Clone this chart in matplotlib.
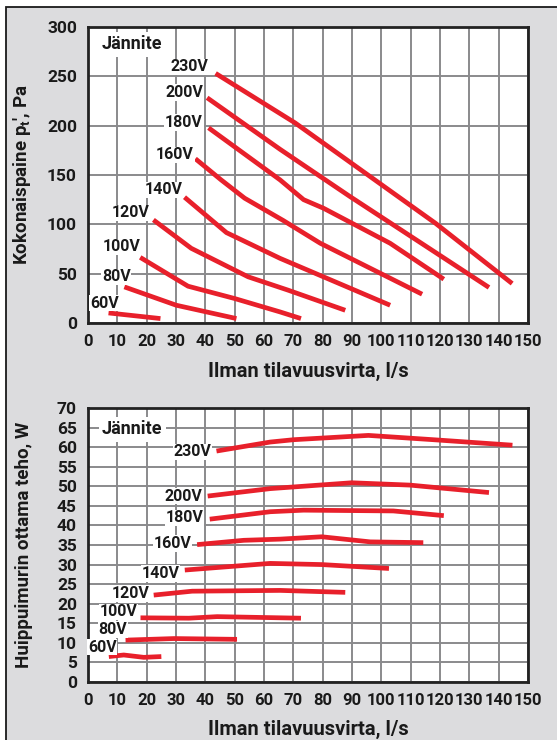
import numpy as np
import matplotlib
matplotlib.use('Agg')
import matplotlib.pyplot as plt
from matplotlib.patches import Rectangle

# pressure curves, x = air flow l/s, y = total pressure Pa
voltages = ['60V', '80V', '100V', '120V', '140V', '160V', '180V', '200V', '230V']
p_flow = [
    [7.0, 24.7],
    [12.4, 30.1, 50.6],
    [17.8, 34.1, 50.0, 65.5, 72.6],
    [22.3, 35.2, 54.6, 68.2, 87.7],
    [32.9, 47.2, 65.5, 103.0],
    [36.6, 45.4, 53.4, 66.5, 79.2, 113.9],
    [41.1, 65.5, 73.5, 80.3, 103.0, 121.3],
    [40.6, 65.5, 89.4, 136.7],
    [43.5, 70.6, 118.5, 144.6],
]
p_pres = [
    [10.2, 4.5],
    [36.6, 18.0, 4.5],
    [66.5, 37.3, 24.8, 11.2, 4.5],
    [104.5, 75.7, 46.8, 33.3, 12.9],
    [127.5, 91.6, 65.5, 18.0],
    [166.5, 145.0, 126.5, 104.0, 80.8, 29.2],
    [197.8, 145.0, 125.0, 116.3, 80.8, 44.4],
    [228.3, 176.0, 128.0, 36.0],
    [253.0, 202.8, 101.0, 40.0],
]
# label positions (right edge) for pressure chart
p_lab_x = [10.5, 14.6, 17.9, 21.0, 32.4, 36.1, 39.2, 39.2, 40.9]
p_lab_y = [20, 46.8, 77.3, 111.6, 135, 170.6, 203.2, 233.7, 259.8]

# power curves, x = air flow l/s, y = power W
w_flow = [
    [7.1, 12.2, 19.0, 25.0],
    [12.8, 29.3, 50.8],
    [17.9, 34.4, 44.0, 65.5, 72.6],
    [22.4, 35.5, 65.5, 87.7],
    [33.0, 62.1, 79.7, 102.6],
    [37.2, 53.1, 65.5, 79.7, 96.2, 114.3],
    [41.5, 62.1, 73.5, 104.1, 121.3],
    [40.8, 62.1, 89.9, 109.8, 136.7],
    [43.8, 62.1, 70.1, 95.6, 117.7, 144.7],
]
w_pow = [
    [6.5, 6.9, 6.3, 6.5],
    [10.7, 11.1, 10.9],
    [16.4, 16.3, 16.7, 16.4, 16.3],
    [22.2, 23.2, 23.4, 22.9],
    [28.6, 30.3, 30.0, 29.0],
    [35.1, 36.2, 36.5, 37.1, 35.8, 35.6],
    [41.6, 43.5, 43.9, 43.7, 42.5],
    [47.5, 49.4, 50.9, 50.3, 48.4],
    [59.0, 61.3, 61.9, 63.0, 61.9, 60.5],
]
w_lab_x = [9.8, 13.4, 16.8, 21.1, 31.2, 35.2, 39.3, 38.9, 42.0]
w_lab_y = [8.9, 13.4, 17.9, 22.6, 27.7, 35.4, 41.9, 47.5, 58.8]

red = '#e8202b'
gridc = '#8a8a8c'
txtc = '#1a1a1a'
plt.rcParams['font.family'] = ['Roboto', 'DejaVu Sans']
plt.rcParams['font.weight'] = 'bold'
plt.rcParams['axes.labelweight'] = 'bold'
plt.rcParams['mathtext.fontset'] = 'custom'
plt.rcParams['mathtext.rm'] = 'Roboto:bold'
plt.rcParams['mathtext.it'] = 'Roboto:bold'

fig = plt.figure(figsize=(5.57, 7.40), dpi=100)
fig.patch.set_facecolor('white')
fig.patches.append(Rectangle((6/557, -0.01), 1.0, 1 - 7/740 + 0.01, transform=fig.transFigure,
                             facecolor='#dcdcde', edgecolor='#1a1a1a', lw=1.3, zorder=-10))

ax1 = fig.add_axes([88/557, 1 - 323/740, 440/557, 296/740])
ax2 = fig.add_axes([88/557, 1 - 682/740, 440/557, 274/740])

def style(ax, ymax, ystep):
    ax.set_facecolor('white')
    ax.set_xlim(0, 150)
    ax.set_ylim(0, ymax)
    ax.set_xticks(np.arange(0, 151, 10))
    ax.set_yticks(np.arange(0, ymax + 1, ystep))
    ax.grid(True, color=gridc, lw=1.4)
    ax.set_axisbelow(True)
    for s in ax.spines.values():
        s.set_linewidth(2)
        s.set_color('#222222')
    ax.tick_params(length=0, pad=8, colors=txtc)
    ax.tick_params(axis='x', labelsize=12)
    ax.tick_params(axis='y', labelsize=12.5)
    ax.set_xlabel('Ilman tilavuusvirta, l/s', fontsize=14.5, color=txtc)

style(ax1, 300, 50)
style(ax2, 70, 5)

for i in range(len(voltages)):
    ax1.plot(p_flow[i], p_pres[i], color=red, lw=3.4, solid_capstyle='butt', zorder=3)
    ax1.text(p_lab_x[i], p_lab_y[i], voltages[i], ha='right', va='center', fontsize=11.5,
             color=txtc, bbox=dict(facecolor='white', edgecolor='none', pad=0.5), zorder=4)
    ax2.plot(w_flow[i], w_pow[i], color=red, lw=3.4, solid_capstyle='butt', zorder=3)
    ax2.text(w_lab_x[i], w_lab_y[i], voltages[i], ha='right', va='center', fontsize=11.5,
             color=txtc, bbox=dict(facecolor='white', edgecolor='none', pad=0.5), zorder=4)

ax1.text(4.5, 282.5, 'Jännite', ha='left', va='center', fontsize=13, color=txtc,
         bbox=dict(facecolor='white', edgecolor='none', pad=2.5), zorder=4)
ax2.text(4.8, 64.6, 'Jännite', ha='left', va='center', fontsize=13, color=txtc,
         bbox=dict(facecolor='white', edgecolor='none', pad=2.5), zorder=4)

ax1.set_ylabel("Kokonaispaine p$_t$', Pa", fontsize=13.5, color=txtc)
ax2.set_ylabel('Huippuimurin ottama teho, W', fontsize=13.5, color=txtc)
ax1.yaxis.set_label_coords(-0.125, 0.5)
ax2.yaxis.set_label_coords(-0.125, 0.5)
ax1.xaxis.set_label_coords(0.5, -0.13)
ax2.xaxis.set_label_coords(0.5, -0.138)

fig.savefig('out.png', dpi=100)
